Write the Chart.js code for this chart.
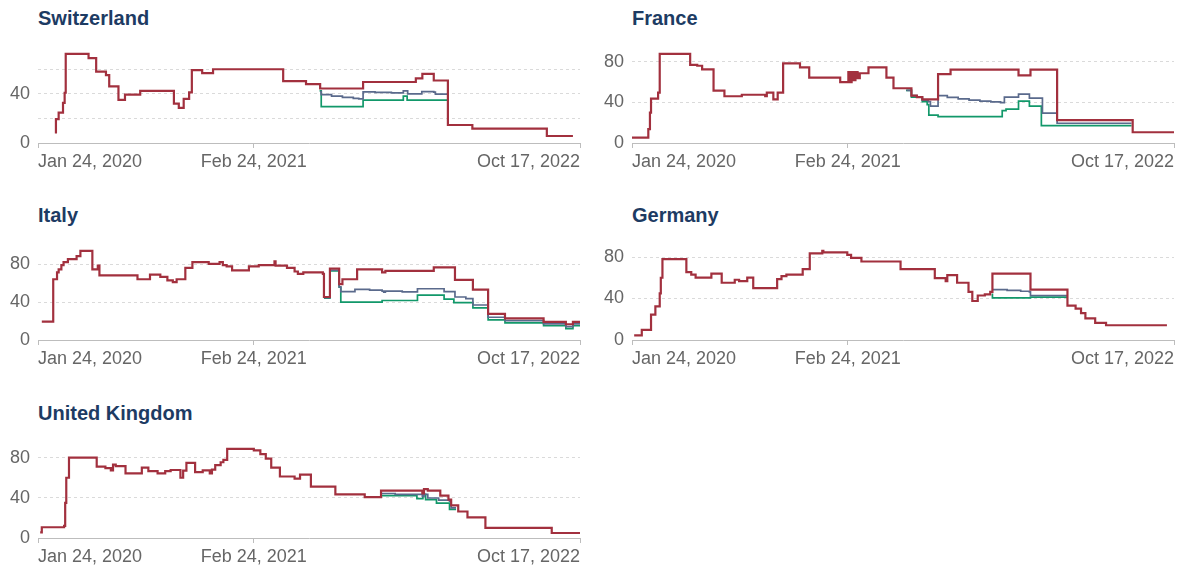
<!DOCTYPE html>
<html>
<head>
<meta charset="utf-8">
<script src="https://cdn.jsdelivr.net/npm/chart.js@4/dist/chart.umd.min.js"></script>
<style>
  body { margin: 0; background: #fff; font-family: "Liberation Sans", Arial, sans-serif; }
  #wrap { position: relative; width: 1184px; height: 569px; overflow: hidden; }
  .title { position: absolute; font-weight: bold; font-size: 20px; line-height: 22px; color: #1d3b63; }
  canvas { position: absolute; }
</style>
</head>
<body>
<div id="wrap"></div>
<script>
// x values are days since Jan 24, 2020
const tickDays = [0, 397, 997];
const tickLabels = ['Jan 24, 2020', 'Feb 24, 2021', 'Oct 17, 2022'];

const countries = ['Switzerland', 'France', 'Italy', 'Germany', 'United Kingdom'];

// Switzerland
const swissNonVax = [[31,8.6],[33,19.5],[38,24.8],[46,32.8],[49,41],[51,72.8],[93,69.2],[107,58.3],[125,55.4],[131,46.2],[148,35.2],[160,39.4],[188,42.5],[250,32.1],[259,28.7],[268,36],[278,41.3],[283,59.5],[302,57.1],[322,60.2],[451,50.5],[493,48.1],[519,44.5],[598,49.8],[695,52.7],[707,56.4],[728,51],[754,14.7],[799,11.8],[936,5.7],[984,5.7]];
const swissAvg = [[519,42],[521,39.4],[540,38.2],[560,37.3],[580,36.5],[590,36],[598,41.8],[620,41.3],[650,40.9],[672,42.5],[680,40.1],[706,42],[728,41.5],[731,39.9],[754,39.9]];
const swissVax = [[518,42.5],[521,29.7],[598,35],[672,38.2],[679,35],[754,35]];

// France
const franceNonVax = [[0,5.3],[30,13.6],[33,30],[35,43.7],[48,49.6],[51,88],[107,77.1],[120,76.2],[129,72.7],[150,51.7],[170,46.1],[202,47.6],[245,46.1],[248,49.6],[260,43.1],[268,49.6],[278,78.6],[309,74.7],[326,64.4],[383,60],[398,70],[401,60],[404,70],[408,62],[411,70],[415,64],[419,68.8],[435,74.7],[468,64.4],[481,54],[514,46.7],[524,45.2],[534,43.1],[563,67.9],[586,72.4],[711,66.8],[733,72.4],[782,22.5],[921,10.6],[997,10.6]];
const franceAvg = [[505,52],[514,46.7],[524,45.2],[534,42.2],[545,40.8],[549,36.3],[563,46.7],[580,45],[600,43.5],[620,42.3],[640,41.4],[660,40.6],[678,39.9],[685,45.2],[711,48.2],[731,44.3],[755,29.5],[782,19.5],[919,19.5]];
const franceVax = [[504,52],[514,45.2],[534,40.8],[543,37.8],[546,27.5],[563,26],[681,31.9],[688,33.4],[711,41.4],[731,36.3],[753,17.1],[919,17.1]];

// Italy
const italyNonVax = [[7,19.4],[28,64],[35,71.3],[38,74.4],[43,79],[47,82],[55,85.3],[71,88.4],[78,94],[100,74.4],[110,78.4],[113,68],[183,64],[206,68.8],[225,66.6],[238,62.8],[248,61],[255,64],[271,76],[284,82],[314,80.3],[334,82],[340,79],[347,77.5],[357,73.4],[388,77.5],[406,79],[435,83],[437,78.4],[458,76],[472,72.2],[478,69.7],[488,71.2],[524,69.7],[526,45.3],[537,75.3],[554,58.8],[560,64],[587,74.4],[633,71.2],[639,72.8],[728,76.6],[767,63.4],[800,53.1],[828,27.5],[859,22.8],[930,19.1],[971,16.6],[984,19.1],[997,19.1]];
const italyAvg = [[526,44.5],[537,73.5],[554,56],[557,50.9],[583,53.4],[610,52.5],[633,51.5],[636,50.5],[639,51.5],[670,50.8],[698,54],[747,50.9],[767,45.3],[787,43.7],[800,36.9],[828,24],[859,20.5],[930,17],[971,14.2],[984,17],[997,17]];
const italyVax = [[526,44],[537,72.8],[554,55.6],[557,40],[633,41.6],[698,47.2],[747,43.1],[765,39.4],[800,33.8],[828,21.3],[859,18.1],[930,15],[971,11.9],[984,15],[997,15]];

// Germany
const germanyNonVax = [[4,4.5],[18,9.8],[35,24.4],[43,32.4],[51,45],[53,60],[56,78],[100,65.4],[109,63.1],[117,60.2],[146,64],[165,55.2],[189,58.1],[197,56.7],[212,60.2],[223,50],[267,58.7],[275,61.6],[284,63.1],[314,68.3],[327,83.6],[350,86],[352,84.5],[396,82.1],[403,79.2],[422,75.7],[494,68.3],[557,59.6],[577,56.7],[580,62.5],[598,55.2],[619,46.4],[626,37.6],[636,42.9],[649,44],[659,46.4],[663,64],[733,48.5],[801,33.2],[816,30.3],[826,25.9],[834,20.9],[852,16.5],[872,14.2],[984,14.2]];
const germanyAvg = [[663,48.5],[690,47.8],[715,47],[731,46.4],[733,42.9],[801,42.9]];
const germanyVax = [[662,44],[663,40.6],[733,41.4],[801,41.4]];

// United Kingdom
const ukNonVax = [[4,5.6],[7,10.7],[48,12],[50,35],[52,60],[57,80],[108,71],[124,69.5],[134,67.4],[138,73],[143,71.6],[161,64.4],[191,70.1],[203,66.5],[220,64.4],[234,66.5],[244,67.7],[262,60],[267,67],[273,74.8],[289,65.6],[303,67.4],[316,64.4],[320,68],[326,72.5],[336,75.4],[341,77.8],[348,88.8],[397,87.3],[409,83.5],[419,79],[429,70.1],[445,61.2],[472,59.1],[482,63],[502,51.1],[547,43.4],[601,40.7],[631,47.2],[707,44.3],[710,48.7],[717,47.2],[740,42.2],[755,38.3],[760,32.4],[773,26.4],[790,20.5],[823,10.1],[945,5],[997,5]];
const ukAvg = [[631,44.3],[657,43.4],[707,41.3],[710,43.4],[717,39.8],[737,37.7],[757,36.8],[760,30],[769,30]];
const ukVax = [[631,42.2],[697,39.2],[708,43.4],[713,38.3],[733,34.7],[757,28.5],[769,28.5]];

const seriesByCountry = [
  [swissNonVax, swissAvg, swissVax],
  [franceNonVax, franceAvg, franceVax],
  [italyNonVax, italyAvg, italyVax],
  [germanyNonVax, germanyAvg, germanyVax],
  [ukNonVax, ukAvg, ukVax]
];
const seriesColors = ['#a2303e', '#5a6a8c', '#12986a'];
const seriesWidths = [2.2, 1.7, 1.7];

const wrap = document.getElementById('wrap');
const rowTops = [0, 197, 395];

countries.forEach((name, i) => {
  const col = i % 2;
  const row = Math.floor(i / 2);
  const left = col * 592;
  const top = rowTops[row];

  const title = document.createElement('div');
  title.className = 'title';
  title.textContent = name;
  title.style.left = (left + (col ? 40 : 38)) + 'px';
  title.style.top = (top + 7) + 'px';
  wrap.appendChild(title);

  const canvas = document.createElement('canvas');
  canvas.width = 592;
  canvas.height = 140;
  canvas.style.left = left + 'px';
  canvas.style.top = (top + 35) + 'px';
  wrap.appendChild(canvas);

  const series = seriesByCountry[i];
  let maxVal = 0;
  series.forEach(s => s.forEach(p => { if (p[1] > maxVal) maxVal = p[1]; }));

  new Chart(canvas, {
    type: 'line',
    data: {
      datasets: series.map((s, k) => ({
        data: s.map(p => ({ x: p[0], y: p[1] })),
        borderColor: seriesColors[k],
        borderWidth: seriesWidths[k],
        pointRadius: 0,
        stepped: true,
        fill: false,
        clip: 4
      }))
    },
    options: {
      responsive: false,
      animation: false,
      layout: { padding: { top: 8, right: col ? 10 : 12, bottom: 0, left: 0 } },
      plugins: { legend: { display: false }, tooltip: { enabled: false } },
      scales: {
        x: {
          type: 'linear',
          min: tickDays[0],
          max: tickDays[tickDays.length - 1],
          afterBuildTicks: (scale) => { scale.ticks = tickDays.map(v => ({ value: v })); },
          afterFit: (scale) => { scale.height = 32; },
          grid: { drawOnChartArea: false, drawTicks: true, tickLength: 5, color: '#bdbdbd' },
          border: { display: true, color: '#bdbdbd' },
          ticks: {
            align: 'inner',
            autoSkip: false,
            maxRotation: 0,
            padding: 3,
            color: '#666',
            font: { family: '"Liberation Sans", Arial, sans-serif', size: 18 },
            callback: (v) => tickLabels[tickDays.indexOf(v)]
          }
        },
        y: {
          min: 0,
          max: maxVal,
          afterBuildTicks: (scale) => {
            const t = [];
            for (let v = 0; v <= maxVal; v += 20) t.push({ value: v });
            scale.ticks = t;
          },
          afterFit: (scale) => { scale.width = col ? 40 : 38; },
          grid: {
            drawTicks: false,
            color: (ctx) => ctx.tick && ctx.tick.value === 0 ? 'rgba(0,0,0,0)' : '#dadada'
          },
          border: { display: false, dash: [3, 3] },
          ticks: {
            padding: 8,
            color: '#666',
            font: { family: '"Liberation Sans", Arial, sans-serif', size: 18 },
            callback: (v) => (v % 40 === 0 ? v : '')
          }
        }
      }
    }
  });
});
</script>
</body>
</html>
